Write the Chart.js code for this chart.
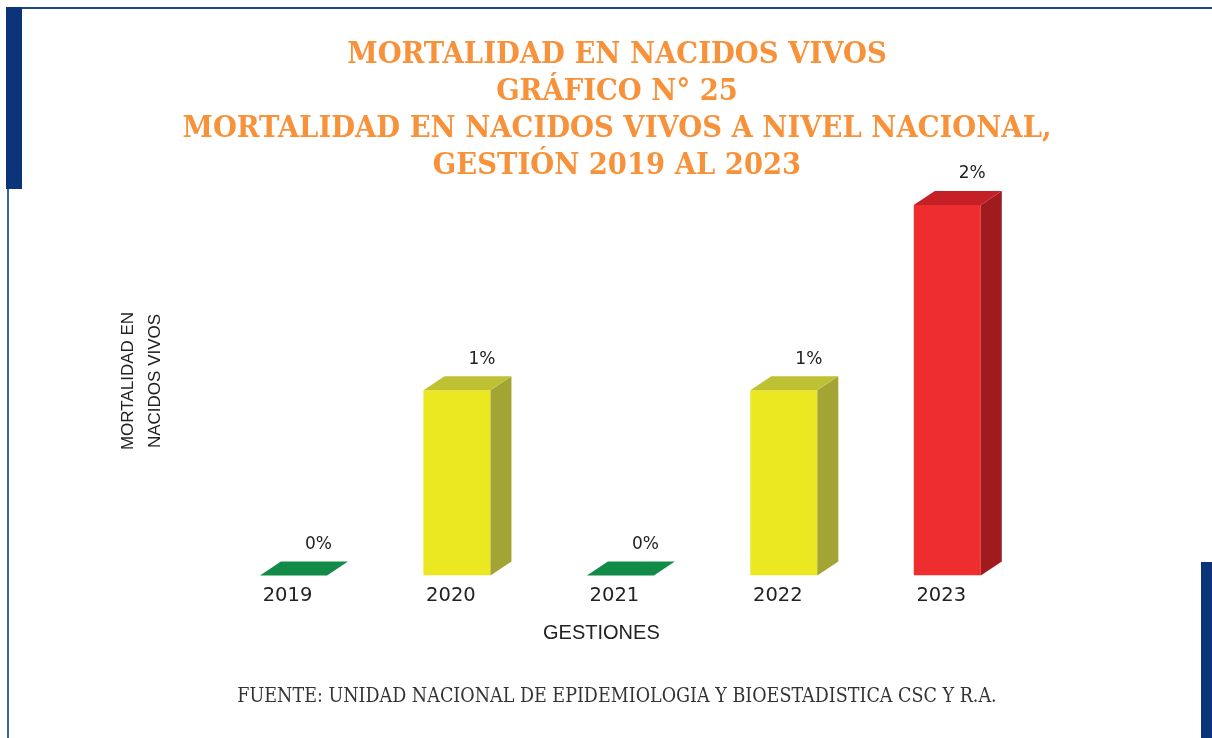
<!DOCTYPE html>
<html>
<head>
<meta charset="utf-8">
<script src="https://cdn.jsdelivr.net/npm/chart.js@4/dist/chart.umd.min.js"></script>
<style>
  html, body { margin: 0; padding: 0; background: #ffffff; }
  #wrap { position: relative; width: 1212px; height: 738px; overflow: hidden; background: #ffffff; }
  #c { position: absolute; left: 0; top: 0; }
  .deco { position: absolute; }
</style>
</head>
<body>
<div id="wrap">
  <div class="deco" style="left:6px;top:7px;width:1206px;height:2px;background:#1d4587;"></div>
  <div class="deco" style="left:6px;top:7px;width:16px;height:182px;background:#0b347a;"></div>
  <div class="deco" style="left:7px;top:189px;width:2px;height:549px;background:#3f6399;"></div>
  <div class="deco" style="left:1201px;top:562px;width:11px;height:176px;background:#0b347a;"></div>
  <canvas id="c" width="1212" height="738"></canvas>
</div>
<script>
// ---- data ----
const categories = ['2019', '2020', '2021', '2022', '2023'];
const values = [0, 1, 0, 1, 2];
const valueLabels = ['0%', '1%', '0%', '1%', '2%'];
const titleLines = [
  'MORTALIDAD EN NACIDOS VIVOS',
  'GRÁFICO N° 25',
  'MORTALIDAD EN NACIDOS VIVOS A NIVEL NACIONAL,',
  'GESTIÓN 2019 AL 2023'
];
const yTitleLines = ['MORTALIDAD EN', 'NACIDOS VIVOS'];
const xTitleText = 'GESTIONES';
const sourceText = 'FUENTE: UNIDAD NACIONAL DE EPIDEMIOLOGIA Y BIOESTADISTICA CSC Y R.A.';

// ---- styles ----
const frontColors = ['#138b48', '#ebe720', '#138b48', '#ebe720', '#ee2e2e'];
const sideColors  = ['#0f7a3d', '#a2a534', '#0f7a3d', '#a2a534', '#a01b1e'];
const topColors   = ['#138b48', '#bec232', '#138b48', '#bec232', '#c42026'];
const DX = 21, DY = 14;

const bar3d = {
  id: 'bar3d',
  afterDatasetsDraw(chart) {
    const ctx = chart.ctx;
    const meta = chart.getDatasetMeta(0);
    meta.data.forEach((bar, i) => {
      const p = bar.getProps(['x', 'y', 'base', 'width'], true);
      const l = p.x - p.width / 2, r = p.x + p.width / 2;
      ctx.save();
      if (p.base - p.y > 0.5) {
        ctx.fillStyle = sideColors[i];
        ctx.beginPath();
        ctx.moveTo(r, p.y);
        ctx.lineTo(r + DX, p.y - DY);
        ctx.lineTo(r + DX, p.base - DY);
        ctx.lineTo(r, p.base);
        ctx.closePath();
        ctx.fill();
      }
      ctx.fillStyle = topColors[i];
      ctx.beginPath();
      ctx.moveTo(l, p.y);
      ctx.lineTo(l + DX, p.y - DY);
      ctx.lineTo(r + DX, p.y - DY);
      ctx.lineTo(r, p.y);
      ctx.closePath();
      ctx.fill();
      ctx.fillStyle = '#222222';
      ctx.font = '17px "DejaVu Sans", sans-serif';
      ctx.textAlign = 'center';
      ctx.textBaseline = 'middle';
      ctx.fillText(valueLabels[i], p.x + 25, p.y - DY - 17);
      ctx.restore();
    });
  },
  afterDraw(chart) {
    const ctx = chart.ctx;
    const xs = chart.scales.x;
    ctx.save();
    ctx.fillStyle = '#222222';
    ctx.font = '20px "Liberation Sans", Arial, sans-serif';
    ctx.textAlign = 'center';
    ctx.textBaseline = 'middle';
    ctx.fillText(xTitleText, (xs.left + xs.right) / 2 - 19, xs.bottom - 17);
    ctx.restore();
  }
};

new Chart(document.getElementById('c'), {
  type: 'bar',
  data: {
    labels: categories,
    datasets: [{
      data: values,
      backgroundColor: frontColors,
      borderWidth: 0,
      categoryPercentage: 1,
      barPercentage: 0.41
    }]
  },
  options: {
    responsive: false,
    animation: false,
    layout: { padding: { left: 22, right: 0, top: 0, bottom: 20.6 } },
    plugins: {
      legend: { display: false },
      tooltip: { enabled: false },
      title: {
        display: true,
        text: titleLines,
        color: '#f7923a',
        font: { family: '"DejaVu Serif Condensed", "DejaVu Serif", serif', size: 30.5, weight: 'bold', lineHeight: 1.22 },
        padding: { top: 36, bottom: 1.7 }
      },
      subtitle: {
        display: true,
        position: 'bottom',
        text: sourceText,
        color: '#333333',
        font: { family: '"DejaVu Serif Condensed", "DejaVu Serif", serif', size: 19.5, lineHeight: 1.2 },
        padding: { top: 35, bottom: 8.6 }
      }
    },
    scales: {
      x: {
        grid: { display: false, drawTicks: false },
        border: { display: false },
        ticks: { color: '#222222', font: { family: '"DejaVu Sans", sans-serif', size: 19.5 }, padding: 9, labelOffset: -6 },
        title: { display: false },
        afterFit(s) { s.height = 75; }
      },
      y: {
        min: 0,
        max: 2.1,
        grid: { display: false, drawTicks: false },
        border: { display: false },
        ticks: { display: false },
        title: { display: true, text: yTitleLines, color: '#222222', font: { family: '"Liberation Sans", Arial, sans-serif', size: 17, lineHeight: 1.6 }, padding: { top: 92.5, bottom: 0 } },
        afterFit(s) { s.width = 189.75; }
      },
      y2: {
        position: 'right',
        display: true,
        grid: { display: false, drawTicks: false },
        border: { display: false },
        ticks: { display: false },
        afterFit(s) { s.width = 183; }
      }
    }
  },
  plugins: [bar3d]
});
</script>
</body>
</html>
